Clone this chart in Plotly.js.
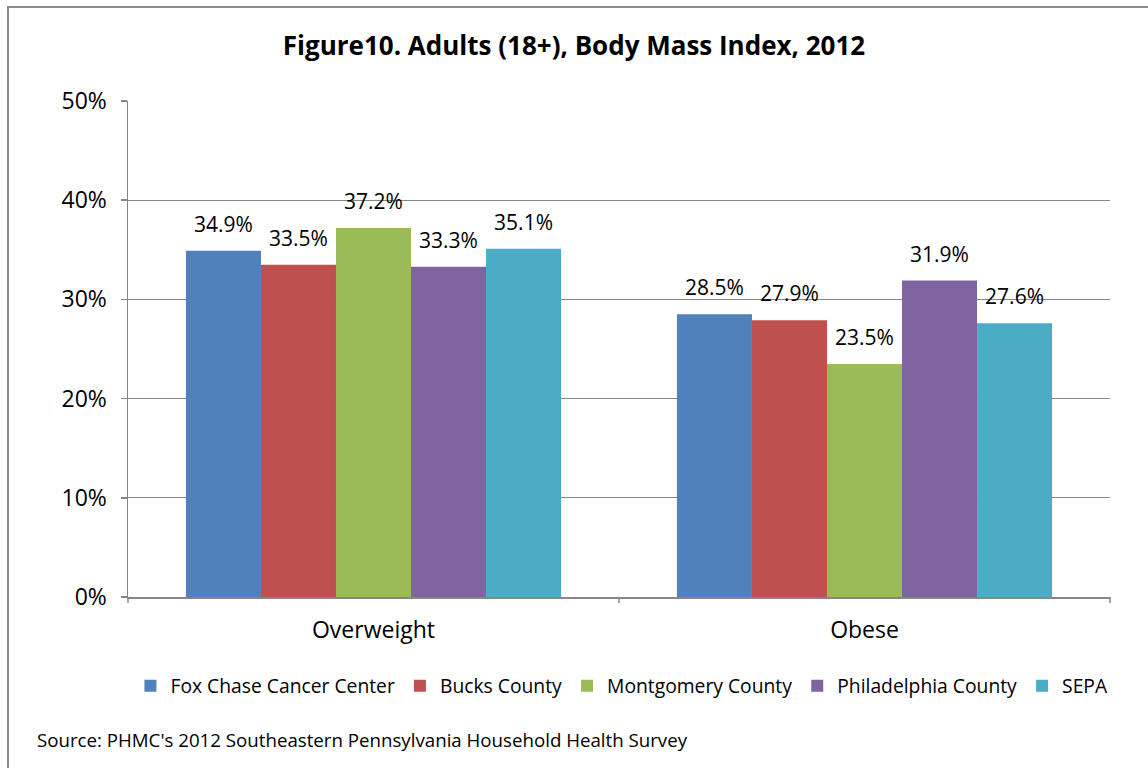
<!DOCTYPE html>
<html>
<head>
<meta charset="utf-8">
<script src="https://cdn.plot.ly/plotly-3.0.1.min.js"></script>
<style>
html,body{margin:0;padding:0;background:#fff;overflow:hidden;}
#wrap{position:relative;width:1148px;height:768px;overflow:hidden;}
#chart{position:absolute;left:0;top:0;width:1148px;height:768px;}
#frame{position:absolute;left:7px;top:6px;width:1200px;height:800px;border:2px solid #8c8c8c;box-sizing:border-box;pointer-events:none;}
</style>
</head>
<body>
<div id="wrap"><div id="chart"></div><div id="frame"></div></div>
<script>
const categories = ["Overweight", "Obese"];
const seriesNames = ["Fox Chase Cancer Center", "Bucks County", "Montgomery County", "Philadelphia County", "SEPA"];
const foxChase = [34.9, 28.5];
const bucks = [33.5, 27.9];
const montgomery = [37.2, 23.5];
const philadelphia = [33.3, 31.9];
const sepa = [35.1, 27.6];
const yTickVals = [0, 10, 20, 30, 40, 50];
const yTickText = ["0%", "10%", "20%", "30%", "40%", "50%"];

const colors = ["#4F81BD", "#C0504D", "#9BBB59", "#8064A2", "#4BACC6"];
const allValues = [foxChase, bucks, montgomery, philadelphia, sepa];
const FONT = "'Open Sans', Lato, sans-serif";

const traces = allValues.map((vals, i) => ({
  type: "bar",
  name: seriesNames[i],
  x: categories,
  y: vals,
  marker: {color: colors[i]},
  text: vals.map(v => "<span style='font-size:21px'>" + v.toFixed(1) + "%</span><br> "),
  textposition: "outside",
  cliponaxis: false,
  textfont: {family: FONT, size: 10, color: "#000"},
  hoverinfo: "none"
}));

const layout = {
  width: 1148, height: 768,
  margin: {l: 128, r: 38, t: 101, b: 171},
  paper_bgcolor: "rgba(0,0,0,0)",
  plot_bgcolor: "#fff",
  font: {family: FONT, color: "#000"},
  title: {text: "<b>Figure10. Adults (18+), Body Mass Index, 2012</b>", x: 0.5, xanchor: "center", y: 0.94, yanchor: "middle", font: {family: FONT, size: 26, color: "#000"}},
  barmode: "group",
  bargap: 0.236,
  bargroupgap: 0,
  showlegend: true,
  legend: {orientation: "h", x: 0.503, xanchor: "center", y: -0.18, yanchor: "middle", font: {family: FONT, size: 19.3, color: "#000"}, traceorder: "normal", itemwidth: 30},
  xaxis: {
    showline: true, linecolor: "#868686", linewidth: 1.5,
    ticks: "", tickfont: {family: FONT, size: 23, color: "#000"},
    ticklabelstandoff: 12,
    showgrid: false, zeroline: false, fixedrange: true
  },
  yaxis: {
    range: [0, 50], tickvals: yTickVals, ticktext: yTickText,
    showline: true, linecolor: "#868686", linewidth: 1.5,
    ticks: "outside", ticklen: 6, tickcolor: "#868686", tickwidth: 1.5,
    tickfont: {family: FONT, size: 23, color: "#000"},
    ticklabelstandoff: 9,
    showgrid: true, gridcolor: "#868686", gridwidth: 1,
    zeroline: false, fixedrange: true
  },
  shapes: [
    {type: "line", xref: "paper", yref: "paper", x0: 0, x1: 0, y0: 0, y1: -0.012, line: {color: "#868686", width: 1.5}},
    {type: "line", xref: "paper", yref: "paper", x0: 0.5, x1: 0.5, y0: 0, y1: -0.012, line: {color: "#868686", width: 1.5}},
    {type: "line", xref: "paper", yref: "paper", x0: 1, x1: 1, y0: 0, y1: -0.012, line: {color: "#868686", width: 1.5}}
  ],
  annotations: [
    {text: "Source: PHMC's 2012 Southeastern Pennsylvania Household Health Survey", xref: "paper", yref: "paper", x: -0.095, y: -0.288, xanchor: "left", yanchor: "middle", showarrow: false, font: {family: FONT, size: 18.7, color: "#000"}}
  ]
};

Plotly.newPlot("chart", traces, layout, {displayModeBar: false, staticPlot: true});
</script>
</body>
</html>
